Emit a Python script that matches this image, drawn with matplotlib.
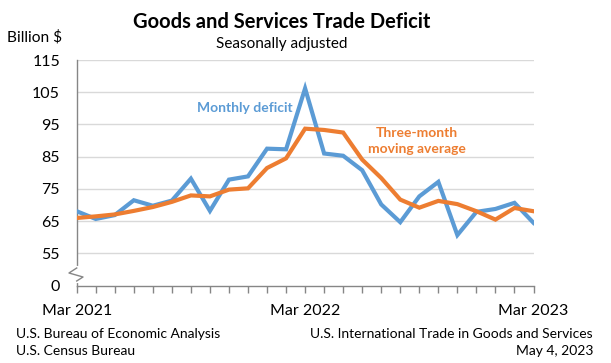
import matplotlib
matplotlib.use("Agg")
import matplotlib.pyplot as plt
from matplotlib.lines import Line2D

# monthly data, Mar 2021 .. Mar 2023 (billion $)
months = ["Mar 2021", "Apr 2021", "May 2021", "Jun 2021", "Jul 2021", "Aug 2021",
          "Sep 2021", "Oct 2021", "Nov 2021", "Dec 2021", "Jan 2022", "Feb 2022",
          "Mar 2022", "Apr 2022", "May 2022", "Jun 2022", "Jul 2022", "Aug 2022",
          "Sep 2022", "Oct 2022", "Nov 2022", "Dec 2022", "Jan 2023", "Feb 2023",
          "Mar 2023"]
monthly_deficit = [68.1, 65.7, 66.9, 71.5, 69.8, 71.4, 78.2, 68.2, 77.9, 78.9, 87.5, 87.3,
                   106.2, 86.0, 85.3, 80.8, 70.2, 64.7, 72.7, 77.2, 60.7, 67.9, 68.8, 70.7,
                   64.5]
moving_avg = [66.0, 66.5, 67.1, 68.2, 69.4, 71.0, 73.0, 72.7, 74.8, 75.2, 81.5, 84.5,
              93.7, 93.3, 92.5, 84.1, 78.4, 71.7, 69.2, 71.3, 70.3, 68.1, 65.5, 69.1,
              68.1]
# the axis is broken: "0" is drawn one step below 55
y_ticks = [45, 55, 65, 75, 85, 95, 105, 115]
y_labels = ["0", "55", "65", "75", "85", "95", "105", "115"]
x_label_idx = [0, 12, 24]

BLUE = "#5B9BD5"
ORANGE = "#ED7D31"
GRAY = "#868686"
FONT = "Lato"

fig = plt.figure(figsize=(6.11, 3.63), dpi=100)
W, H = 611, 363
ax = fig.add_axes([76.7 / W, 1 - 285.7 / H, (533.5 - 76.7) / W, (285.7 - 60) / H])

x = list(range(len(months)))
ax.plot(x, monthly_deficit, color=BLUE, lw=3, solid_joinstyle="miter", zorder=3)
ax.plot(x, moving_avg, color=ORANGE, lw=3, solid_joinstyle="miter", zorder=4)

ax.set_xlim(0, len(months) - 1)
ax.set_ylim(45, 115)
ax.set_yticks(y_ticks)
ax.set_yticklabels(y_labels, fontfamily=FONT, fontsize=11.5)
for y in y_ticks[1:]:
    ax.axhline(y, color="#D9D9D9", lw=1, zorder=1)

ax.set_xticks(x)
ax.set_xticklabels([months[i] if i in x_label_idx else "" for i in x],
                   fontfamily=FONT, fontsize=11.5)
ax.tick_params(axis="x", direction="out", length=5, width=1, color=GRAY, pad=8)
ax.tick_params(axis="y", length=0, pad=12)

for s in ["top", "right"]:
    ax.spines[s].set_visible(False)
for s in ["left", "bottom"]:
    ax.spines[s].set_color(GRAY)
    ax.spines[s].set_linewidth(1)

# axis break mark on the left spine (pixel coords)
def px(xp, yp):
    return xp / W, 1 - yp / H

gap = Line2D(*zip(px(76.7, 268), px(76.7, 281)), transform=fig.transFigure,
             color="white", lw=3, zorder=10)
fig.lines.append(gap)
zig = [px(76.7, 268), px(69, 273), px(83, 277), px(76.7, 281)]
fig.lines.append(Line2D([p[0] for p in zig], [p[1] for p in zig],
                        transform=fig.transFigure, color=GRAY, lw=1, zorder=11))

# series labels
ax.text(245 / W, 1 - 108 / H, "Monthly deficit", transform=fig.transFigure,
        color=BLUE, fontfamily=FONT, fontweight="bold", fontsize=10,
        ha="center", va="center")
ax.text(417 / W, 1 - 141 / H, "Three-month\nmoving average", transform=fig.transFigure,
        color=ORANGE, fontfamily=FONT, fontweight="bold", fontsize=10,
        ha="center", va="center", linespacing=1.35)

# titles and notes
fig.text(282 / W, 1 - 22 / H, "Goods and Services Trade Deficit", fontfamily=FONT,
         fontweight="bold", fontsize=14.5, ha="center", va="center")
fig.text(282 / W, 1 - 44 / H, "Seasonally adjusted", fontfamily=FONT,
         fontsize=11, ha="center", va="center")
fig.text(7 / W, 1 - 37 / H, "Billion $", fontfamily=FONT, fontsize=11.2,
         ha="left", va="center")
fig.text(16 / W, 1 - 334 / H, "U.S. Bureau of Economic Analysis", fontfamily=FONT,
         fontsize=10, ha="left", va="center")
fig.text(16 / W, 1 - 351 / H, "U.S. Census Bureau", fontfamily=FONT,
         fontsize=10, ha="left", va="center")
fig.text(593 / W, 1 - 334 / H, "U.S. International Trade in Goods and Services",
         fontfamily=FONT, fontsize=10, ha="right", va="center")
fig.text(593 / W, 1 - 351 / H, "May 4, 2023", fontfamily=FONT,
         fontsize=10, ha="right", va="center")

fig.savefig("out.png", dpi=100)
